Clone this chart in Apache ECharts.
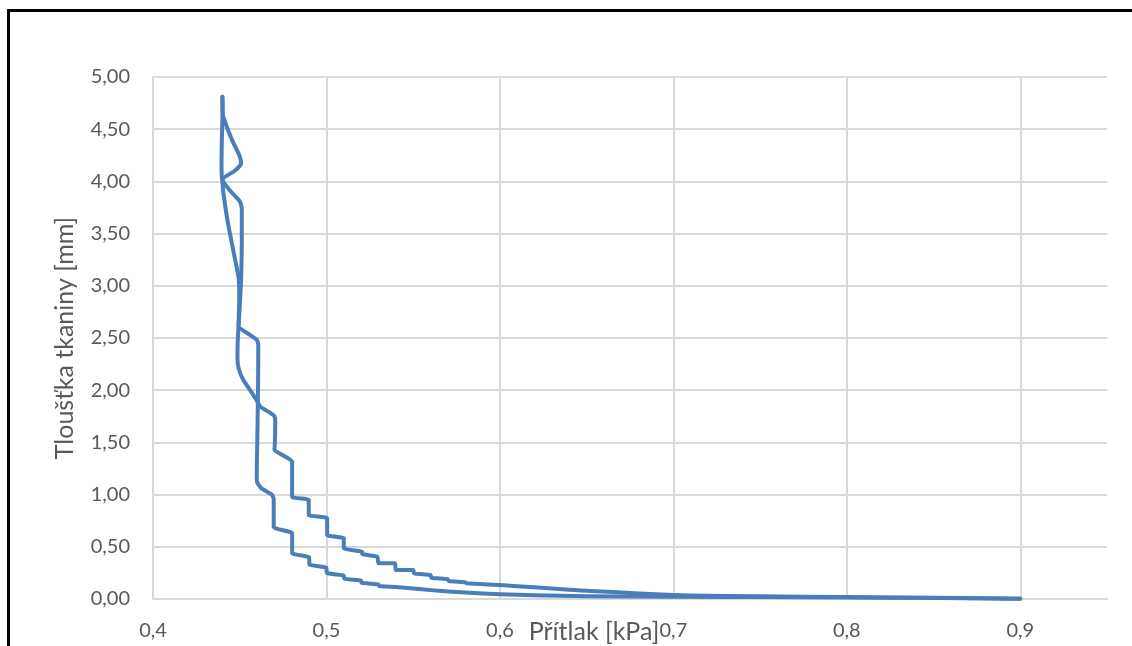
<!DOCTYPE html>
<html>
<head>
<meta charset="utf-8">
<title>Tloušťka tkaniny</title>
<script src="https://cdn.jsdelivr.net/npm/echarts@6/dist/echarts.min.js"></script>
<style>
  html, body { margin: 0; padding: 0; background: #fff; }
  #chart { width: 1132px; height: 646px; }
</style>
</head>
<body>
<div id="chart"></div>
<script>
// Branch A: top of the sample, through the upper bulge, down the inner path to the low steps
const pressureA = [
  0.4400, 0.4401, 0.4403, 0.4455, 0.4500, 0.4508, 0.4470, 0.4400,
  0.4405, 0.4430, 0.4465, 0.4495, 0.4497, 0.4493, 0.4550, 0.4600,
  0.4607, 0.4606, 0.4603, 0.4600, 0.4598, 0.4600, 0.4625, 0.4685,
  0.4696, 0.4696, 0.4802, 0.4802, 0.4900, 0.4902, 0.5000, 0.5002,
  0.5100, 0.5102, 0.5200, 0.5202, 0.5300, 0.5303, 0.5400, 0.5500,
  0.5600, 0.5700, 0.5800, 0.6000, 0.6200, 0.6500, 0.7000, 0.7500,
  0.8000, 0.8500, 0.9000
];
const thicknessA = [
  4.81, 4.70, 4.63, 4.40, 4.24, 4.17, 4.10, 4.02,
  3.90, 3.62, 3.32, 3.06, 2.85, 2.61, 2.54, 2.48,
  2.43, 2.10, 1.70, 1.40, 1.20, 1.12, 1.06, 1.00,
  0.96, 0.69, 0.63, 0.44, 0.40, 0.33, 0.30, 0.25,
  0.225, 0.195, 0.175, 0.155, 0.140, 0.125, 0.115, 0.100,
  0.085, 0.072, 0.063, 0.045, 0.035, 0.027, 0.022, 0.018,
  0.014, 0.009, 0.003
];

// Branch B: straight down from the top, then the outer staircase
const pressureB = [
  0.4400, 0.4401, 0.4400, 0.4397, 0.4395, 0.4398, 0.4450, 0.4500,
  0.4512, 0.4512, 0.4508, 0.4500, 0.4493, 0.4488, 0.4487, 0.4495,
  0.4520, 0.4560, 0.4595, 0.4620, 0.4670, 0.4700, 0.4705, 0.4703,
  0.4700, 0.4802, 0.4802, 0.4898, 0.4898, 0.5004, 0.5004, 0.5100,
  0.5100, 0.5206, 0.5206, 0.5293, 0.5300, 0.5395, 0.5400, 0.5500,
  0.5505, 0.5600, 0.5605, 0.5700, 0.5705, 0.5800, 0.5810, 0.6000,
  0.6200, 0.6400, 0.6650, 0.6900, 0.7100, 0.7500, 0.8000, 0.8500,
  0.9000
];
const thicknessB = [
  4.81, 4.70, 4.60, 4.40, 4.20, 4.02, 3.90, 3.81,
  3.74, 3.40, 3.06, 2.80, 2.61, 2.45, 2.30, 2.20,
  2.10, 2.00, 1.91, 1.84, 1.79, 1.75, 1.70, 1.50,
  1.43, 1.315, 0.98, 0.948, 0.805, 0.773, 0.613, 0.581,
  0.486, 0.453, 0.431, 0.405, 0.342, 0.342, 0.278, 0.278,
  0.246, 0.230, 0.204, 0.190, 0.172, 0.160, 0.150, 0.134,
  0.112, 0.088, 0.066, 0.045, 0.033, 0.026, 0.019, 0.012,
  0.003
];

// Axis ranges and titles
const xRange = { min: 0.4, max: 0.95, step: 0.1 };
const yRange = { min: 0, max: 5, step: 0.5 };
const xTitle = 'Přítlak [kPa]';
const yTitle = 'Tloušťka tkaniny [mm]';

const zip = (xs, ys) => xs.map((x, i) => [x, ys[i]]);

const FONT = 'Lato, "Liberation Sans", sans-serif';
const TEXT = '#595959';
const GRID = '#D9D9D9';
const LINE = '#4A7EBB';

const chart = echarts.init(document.getElementById('chart'), null, { renderer: 'canvas' });

const lineSeries = (data) => ({
  type: 'line',
  data: data,
  showSymbol: false,
  smooth: 0.15,
  lineStyle: { color: LINE, width: 4, cap: 'round', join: 'round' },
  itemStyle: { color: LINE },
  emphasis: { disabled: true },
  animation: false
});

chart.setOption({
  animation: false,
  backgroundColor: '#fff',
  grid: { left: 153, right: 25, top: 77, bottom: 47, outerBoundsMode: 'none', containLabel: false },
  graphic: [{
    type: 'rect',
    shape: { x: 8.5, y: 10.5, width: 1300, height: 900 },
    style: { fill: 'none', stroke: '#000', lineWidth: 3 },
    silent: true
  }],
  xAxis: {
    type: 'value',
    min: xRange.min,
    max: xRange.max,
    interval: xRange.step,
    name: xTitle,
    nameLocation: 'middle',
    nameGap: 20,
    nameMoveOverlap: false,
    nameTextStyle: { color: TEXT, fontFamily: FONT, fontSize: 25, padding: [0, 72, 0, 0] },
    axisLine: { show: true, lineStyle: { color: GRID, width: 2 } },
    axisTick: { show: false },
    splitLine: { show: true, showMaxLine: false, lineStyle: { color: GRID, width: 2 } },
    axisLabel: {
      color: TEXT, fontFamily: FONT, fontSize: 20, margin: 22,
      showMaxLabel: false,
      formatter: (v) => (v > 0.91 ? '' : v.toFixed(1).replace('.', ','))
    }
  },
  yAxis: {
    type: 'value',
    min: yRange.min,
    max: yRange.max,
    interval: yRange.step,
    name: yTitle,
    nameLocation: 'middle',
    nameGap: 76,
    nameMoveOverlap: false,
    nameTextStyle: { color: TEXT, fontFamily: FONT, fontSize: 25 },
    axisLine: { show: true, lineStyle: { color: GRID, width: 2 } },
    axisTick: { show: false },
    splitLine: { show: true, lineStyle: { color: GRID, width: 2 } },
    axisLabel: {
      color: TEXT, fontFamily: FONT, fontSize: 20, margin: 23,
      formatter: (v) => v.toFixed(2).replace('.', ',')
    }
  },
  series: [
    lineSeries(zip(pressureA, thicknessA)),
    lineSeries(zip(pressureB, thicknessB))
  ]
});
</script>
</body>
</html>
